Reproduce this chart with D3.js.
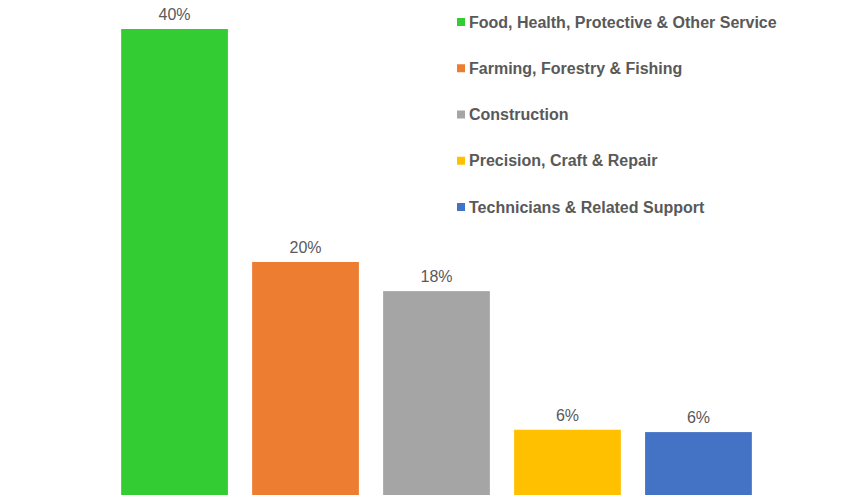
<!DOCTYPE html>
<html><head><meta charset="utf-8">
<script src="https://cdn.jsdelivr.net/npm/d3@7"></script>
<style>html,body{margin:0;padding:0;background:#fff;}svg{display:block;}</style>
</head><body>
<script>
const categories = ["Food, Health, Protective & Other Service","Farming, Forestry & Fishing","Construction","Precision, Craft & Repair","Technicians & Related Support"];
const values = [0.40, 0.20, 0.175, 0.056, 0.054];
const valueLabels = ["40%","20%","18%","6%","6%"];
const colors = ["#33CC33","#ED7D31","#A5A5A5","#FFC000","#4472C4"];

const W = 857, H = 495;
const svg = d3.select("body").append("svg").attr("width", W).attr("height", H);

const x = d3.scaleBand().domain(categories).range([115, 758]).paddingInner(0.185).paddingOuter(0.047);
const y = d3.scaleLinear().domain([0, 0.40]).range([495, 29]);

svg.selectAll("rect.bar").data(categories).enter().append("rect")
  .attr("class","bar")
  .attr("x", d => x(d)).attr("width", x.bandwidth())
  .attr("y", (d,i) => y(values[i])).attr("height", (d,i) => y(0) - y(values[i]))
  .attr("fill", (d,i) => colors[i]);

svg.selectAll("text.val").data(categories).enter().append("text")
  .attr("class","val")
  .attr("x", d => x(d) + x.bandwidth()/2)
  .attr("y", (d,i) => y(values[i]) - 9)
  .attr("text-anchor","middle")
  .attr("font-family","'Liberation Sans', Arial, sans-serif")
  .attr("font-size", 16)
  .attr("fill","#595959")
  .text((d,i) => valueLabels[i]);

const leg = svg.append("g").attr("transform","translate(457,0)");
const ly = d3.scalePoint().domain(categories).range([22, 207]);
const items = leg.selectAll("g").data(categories).enter().append("g")
  .attr("transform", d => `translate(0,${ly(d)})`);
items.append("rect").attr("x",0).attr("y",-4).attr("width",8).attr("height",8)
  .attr("fill",(d,i)=>colors[i]);
items.append("text").attr("x",12).attr("y",5.5)
  .attr("font-family","'Liberation Sans', Arial, sans-serif")
  .attr("font-weight","bold").attr("font-size",16)
  .attr("fill","#595959").text(d=>d);
</script>
</body></html>
